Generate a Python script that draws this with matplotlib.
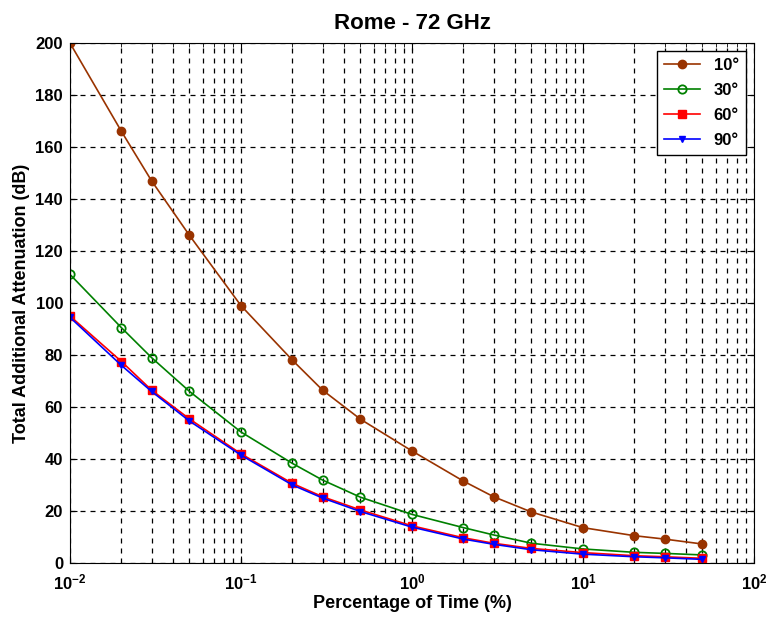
import matplotlib
matplotlib.use("Agg")
import matplotlib.pyplot as plt
from matplotlib.ticker import LogLocator, NullFormatter, MultipleLocator

plt.rcParams['font.family'] = ['Liberation Sans', 'DejaVu Sans']
plt.rcParams['font.weight'] = 'bold'

# percentage of time (%)
pct = [0.01, 0.02, 0.03, 0.05, 0.1, 0.2, 0.3, 0.5, 1, 2, 3, 5, 10, 20, 30, 50]

# total additional attenuation (dB) per elevation angle
att_10 = [200, 166, 147, 126, 99, 78, 66.5, 55.3, 43.1, 31.5, 25.5, 19.6, 13.6, 10.5, 9.2, 7.3]
att_30 = [111, 90.5, 79, 66, 50.4, 38.3, 31.9, 25.3, 18.7, 13.6, 10.8, 7.6, 5.4, 4.1, 3.7, 3.1]
att_60 = [95, 77.5, 66.5, 55.4, 42, 30.6, 25.5, 20.4, 14.3, 9.7, 7.6, 5.6, 4.0, 2.8, 2.4, 1.8]
att_90 = [94.5, 76, 66, 54.6, 41.5, 30, 25, 19.8, 13.8, 9.2, 7.2, 5.1, 3.4, 2.4, 2.0, 1.4]

labels = ['10°', '30°', '60°', '90°']

fig = plt.figure(figsize=(7.68, 6.28), dpi=100)
ax = fig.add_axes([0.0911, 0.1035, 0.8906, 0.828])

ax.semilogx(pct, att_10, '-o', color='#993300', mfc='#993300', ms=6, lw=1.2, label=labels[0])
ax.semilogx(pct, att_30, '-o', color='#008000', mfc='none', ms=6, mew=1.3, lw=1.2, label=labels[1])
ax.semilogx(pct, att_60, '-s', color='#ff0000', mfc='#ff0000', ms=5.5, lw=1.2, label=labels[2])
ax.semilogx(pct, att_90, '-v', color='#0000ff', mfc='#0000ff', ms=5, lw=1.2, label=labels[3])

ax.set_xlim(1e-2, 1e2)
ax.set_ylim(0, 200)
ax.yaxis.set_major_locator(MultipleLocator(20))
ax.xaxis.set_minor_locator(LogLocator(base=10, subs=range(2, 10), numticks=20))
ax.xaxis.set_minor_formatter(NullFormatter())

ax.grid(True, which='major', linestyle=(0, (4, 4)), color='black', lw=0.9)
ax.grid(True, which='minor', axis='x', linestyle=(0, (4, 4)), color='black', lw=0.9)
ax.tick_params(which='both', direction='in', top=True, right=True, labelsize=12)
ax.tick_params(which='major', length=5)
ax.tick_params(which='minor', length=3)
ax.tick_params(axis='x', pad=7)
ax.tick_params(axis='y', pad=5)
for lab in ax.get_xticklabels() + ax.get_yticklabels():
    lab.set_fontweight('bold')

ax.set_title('Rome - 72 GHz', fontsize=16, fontweight='bold', pad=10)
ax.set_xlabel('Percentage of Time (%)', fontsize=13, fontweight='bold', labelpad=2)
ax.set_ylabel('Total Additional Attenuation (dB)', fontsize=13, fontweight='bold')

leg = ax.legend(loc='upper right', fontsize=12, fancybox=False, framealpha=1,
                edgecolor='black', handlelength=2.2, borderpad=0.4, labelspacing=0.6)
leg.get_frame().set_linewidth(1.0)

fig.savefig('out.png', dpi=100)
